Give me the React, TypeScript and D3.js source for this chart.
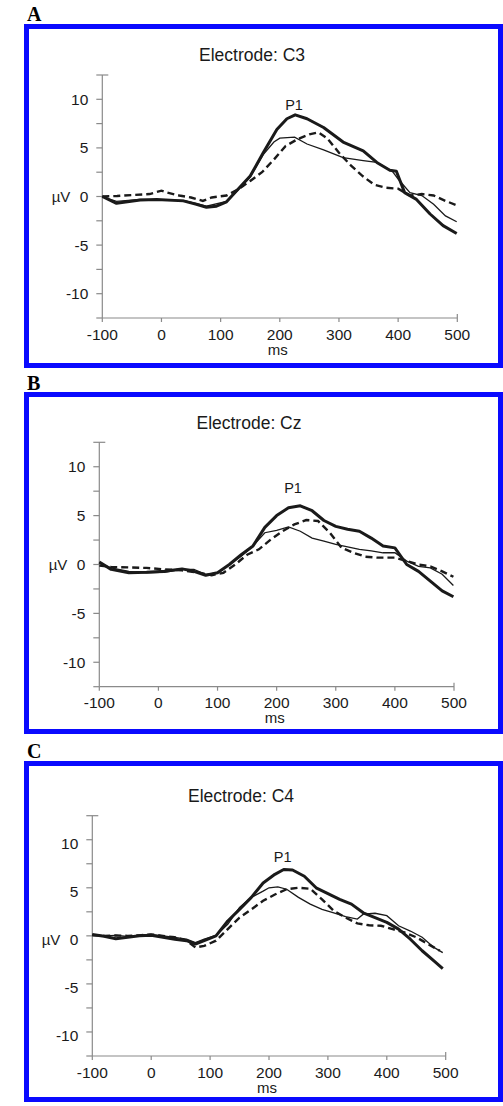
import React from "react";
import * as d3 from "d3";

// ---------- DATA ----------
const panelLetters = ["A", "B", "C"];
const electrodes = ["C3", "Cz", "C4"];
const xTickValues = [-100, 0, 100, 200, 300, 400, 500];
const yTickLabels = [10, 5, 0, -5, -10];
const yMinorTicks = [-12.5, -10, -7.5, -5, -2.5, 0, 2.5, 5, 7.5, 10, 12.5];

// Panel A (C3): [ms, µV]
const c3Thick: [number, number][] = [
  [-100, 0], [-76, -0.7], [-36, -0.35], [-8, -0.3], [37, -0.45], [59, -0.8], [76, -1.1], [93, -1.0],
  [110, -0.55], [127, 0.6], [150, 2.1], [172, 4.5], [195, 6.9], [212, 8.0], [226, 8.4], [246, 8.0],
  [274, 7.1], [307, 5.6], [341, 4.7], [364, 3.5], [386, 2.7], [397, 2.6], [411, 0.4], [431, -0.3],
  [454, -1.8], [476, -3.0], [499, -3.8],
];
const c3Thin: [number, number][] = [
  [-100, 0], [-76, -0.5], [-36, -0.3], [37, -0.4], [76, -1.0], [110, -0.5], [127, 0.5], [150, 2.0],
  [172, 4.3], [190, 5.6], [200, 6.0], [225, 6.1], [246, 5.4], [274, 4.8], [307, 4.0], [341, 3.7],
  [364, 3.5], [390, 2.6], [400, 1.8], [420, 0.4], [440, 0.1], [460, -0.8], [480, -2.0], [499, -2.6],
];
const c3Dashed: [number, number][] = [
  [-100, 0], [-75, 0.05], [-50, 0.15], [-20, 0.25], [0, 0.6], [10, 0.4], [30, 0.1], [50, -0.1],
  [70, -0.45], [85, -0.1], [110, 0.1], [130, 0.75], [150, 1.6], [170, 2.5], [190, 3.8], [210, 5.2],
  [230, 5.9], [250, 6.4], [265, 6.6], [280, 6.0], [300, 4.5], [320, 3.2], [340, 2.1], [360, 1.2],
  [380, 0.9], [400, 0.8], [420, 0.1], [440, 0.25], [460, 0.1], [480, -0.45], [499, -0.9],
];

// Panel B (Cz)
const czThick: [number, number][] = [
  [-100, 0.25], [-80, -0.5], [-50, -0.85], [-20, -0.8], [10, -0.7], [40, -0.45], [60, -0.7], [80, -1.1],
  [100, -0.85], [120, 0], [140, 1.0], [160, 1.9], [180, 3.8], [200, 5.0], [220, 5.8], [240, 6.0],
  [260, 5.5], [280, 4.5], [300, 3.9], [320, 3.6], [340, 3.4], [360, 2.7], [380, 1.9], [400, 1.7],
  [420, 0], [440, -0.7], [460, -1.7], [480, -2.7], [499, -3.3],
];
const czThin: [number, number][] = [
  [-100, 0.15], [-80, -0.35], [-50, -0.7], [-20, -0.85], [10, -0.8], [40, -0.5], [60, -0.5], [80, -1.0],
  [100, -0.85], [120, 0], [140, 0.85], [160, 1.9], [180, 3.25], [200, 3.5], [220, 3.85], [240, 3.4],
  [260, 2.7], [280, 2.4], [300, 2.05], [320, 1.8], [340, 1.55], [360, 1.4], [380, 1.2], [400, 1.2],
  [420, 0.35], [440, -0.2], [460, -0.35], [480, -1.0], [499, -2.15],
];
const czDashed: [number, number][] = [
  [-100, -0.1], [-80, -0.25], [-50, -0.3], [-20, -0.35], [10, -0.5], [40, -0.6], [70, -0.85], [90, -1.1],
  [110, -0.85], [130, 0], [150, 1.0], [170, 1.55], [190, 2.55], [210, 3.4], [230, 4.1], [250, 4.55],
  [270, 4.45], [290, 3.25], [310, 1.7], [330, 1.2], [350, 0.8], [370, 0.7], [400, 0.7], [420, 0.35],
  [440, 0], [460, -0.2], [480, -0.7], [499, -1.25],
];

// Panel C (C4)
const c4Thick: [number, number][] = [
  [-100, 0.15], [-80, -0.05], [-60, -0.3], [-40, -0.15], [-20, 0], [0, 0.05], [20, -0.15], [40, -0.35],
  [60, -0.5], [75, -0.85], [90, -0.5], [110, 0], [130, 1.55], [150, 2.75], [170, 4.0], [190, 5.5],
  [210, 6.4], [225, 6.9], [240, 6.85], [260, 6.2], [280, 5.0], [300, 4.4], [320, 3.8], [340, 3.3],
  [360, 2.4], [380, 1.9], [400, 1.4], [420, 0.7], [440, -0.35], [460, -1.55], [480, -2.6], [495, -3.4],
];
const c4Thin: [number, number][] = [
  [-100, 0.15], [-80, 0], [-60, 0.05], [-40, -0.05], [-20, 0.05], [0, 0.15], [20, 0], [40, -0.15],
  [60, -0.35], [75, -0.7], [90, -0.35], [110, 0.05], [130, 1.2], [150, 2.95], [170, 4.0], [190, 4.65],
  [200, 5.0], [215, 5.1], [230, 4.85], [250, 4.0], [270, 3.3], [290, 2.75], [310, 2.4], [330, 2.0],
  [350, 1.75], [360, 2.25], [380, 2.35], [400, 2.1], [420, 1.05], [440, 0.5], [460, -0.15], [480, -1.2], [495, -1.75],
];
const c4Dashed: [number, number][] = [
  [-100, 0.05], [-80, 0], [-60, 0.05], [-40, 0], [-20, 0.05], [0, 0.15], [20, 0], [40, -0.15],
  [60, -0.5], [75, -1.2], [90, -1.05], [110, -0.5], [130, 0.7], [150, 1.9], [170, 2.75], [190, 3.65],
  [210, 4.3], [230, 4.85], [250, 5.0], [270, 4.9], [290, 3.8], [310, 2.6], [330, 1.9], [350, 1.3],
  [370, 1.1], [390, 1.05], [410, 0.7], [430, 0.35], [450, -0.15], [470, -0.85], [490, -1.55],
];

const thickSeries = [c3Thick, czThick, c4Thick];
const thinSeries = [c3Thin, czThin, c4Thin];
const dashedSeries = [c3Dashed, czDashed, c4Dashed];

// ---------- LAYOUT ----------
const W = 503;
const H = 1106;
const layouts = [
  { box: [26.5, 26.5, 474, 339], letterY: 20.5, x0: 102.3, x1: 457.3, yTop: 75, yBot: 318, titleX: 252, titleY: 61, p1X: 294, p1Y: 110, yLabDy: 5.5 },
  { box: [26.5, 394.5, 474, 337], letterY: 390, x0: 99.3, x1: 454, yTop: 442.3, yBot: 686.7, titleX: 249, titleY: 429, p1X: 293, p1Y: 493.3, yLabDy: 5.5 },
  { box: [26.5, 763.5, 474, 336], letterY: 758, x0: 92.3, x1: 445.7, yTop: 815.7, yBot: 1056, titleX: 241, titleY: 801.7, p1X: 282.7, p1Y: 862.3, yLabDy: 9.5 },
];

const SANS = "Arial, 'Liberation Sans', Helvetica, sans-serif";
const AXIS = "#8a8a8a";
const INK = "#1a1a1a";

function Panel({ i }: { i: number }) {
  const L = layouts[i];
  const x = d3.scaleLinear().domain([-100, 500]).range([L.x0, L.x1]);
  const y = d3.scaleLinear().domain([-12.5, 12.5]).range([L.yBot, L.yTop]);
  const line = d3
    .line<[number, number]>()
    .x((d) => x(d[0]))
    .y((d) => y(d[1]))
    .curve(d3.curveLinear);
  const [bx, by, bw, bh] = L.box;
  return (
    <g>
      <text x={27} y={L.letterY} fontFamily="'Times New Roman', 'Liberation Serif', serif" fontWeight="bold" fontSize={20} fill="#000">
        {panelLetters[i]}
      </text>
      <rect x={bx} y={by} width={bw} height={bh} fill="#fff" stroke="#0a0aff" strokeWidth={5} />
      <text x={L.titleX} y={L.titleY} textAnchor="middle" fontFamily={SANS} fontSize={17.5} fill={INK}>
        {"Electrode: " + electrodes[i]}
      </text>
      {/* y axis */}
      <line x1={x(-100)} x2={x(-100)} y1={y(12.5)} y2={y(-12.5)} stroke={AXIS} strokeWidth={1.2} />
      {yMinorTicks.map((t) => (
        <line key={"yt" + t} x1={x(-100) - 6} x2={t === 12.5 ? x(-100) + 6 : x(-100)} y1={y(t)} y2={y(t)} stroke={AXIS} strokeWidth={1.2} />
      ))}
      {yTickLabels.map((t) => (
        <text key={"yl" + t} x={x(-100) - 14} y={y(t) + L.yLabDy} textAnchor="end" fontFamily={SANS} fontSize={15.5} fill={INK}>
          {t}
        </text>
      ))}
      <text x={x(-100) - 32} y={y(0) + L.yLabDy} textAnchor="end" fontFamily={SANS} fontSize={15} fill={INK}>
        µV
      </text>
      {/* x axis */}
      <line x1={x(-100)} x2={x(500)} y1={y(-12.5)} y2={y(-12.5)} stroke={AXIS} strokeWidth={1.2} />
      {xTickValues.map((t) => (
        <line key={"xt" + t} x1={x(t)} x2={x(t)} y1={t === 500 ? y(-12.5) - 4 : y(-12.5)} y2={y(-12.5) + 4} stroke={AXIS} strokeWidth={1.2} />
      ))}
      {xTickValues.map((t) => (
        <text key={"xl" + t} x={x(t)} y={y(-12.5) + 21.5} textAnchor="middle" fontFamily={SANS} fontSize={15.5} fill={INK}>
          {t}
        </text>
      ))}
      <text x={(L.x0 + L.x1) / 2 - 2} y={y(-12.5) + 36.5} textAnchor="middle" fontFamily={SANS} fontSize={15} fill={INK}>
        ms
      </text>
      {/* series */}
      <path d={line(dashedSeries[i]) || ""} fill="none" stroke={INK} strokeWidth={2.4} strokeDasharray="7,4" />
      <path d={line(thinSeries[i]) || ""} fill="none" stroke={INK} strokeWidth={1.3} />
      <path d={line(thickSeries[i]) || ""} fill="none" stroke={INK} strokeWidth={3} strokeLinejoin="round" />
      <text x={L.p1X} y={L.p1Y} textAnchor="middle" fontFamily={SANS} fontSize={14.5} fill={INK}>
        P1
      </text>
    </g>
  );
}

export default function App() {
  return (
    <div style={{ position: "absolute", left: 0, top: 0, width: W, height: H }}>
      <svg width={W} height={H} viewBox={`0 0 ${W} ${H}`} style={{ display: "block", background: "#fff" }}>
        {[0, 1, 2].map((i) => (
          <Panel key={i} i={i} />
        ))}
      </svg>
    </div>
  );
}
